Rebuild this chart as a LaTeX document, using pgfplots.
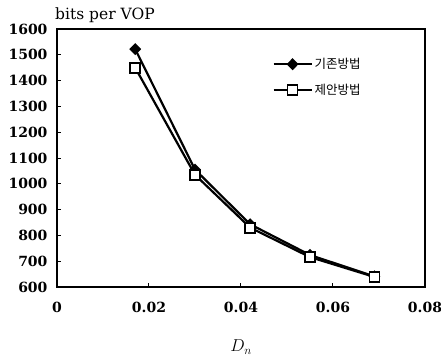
\documentclass[border=0pt]{standalone}
\usepackage{fontspec}
\setmainfont{DejaVu Serif}
\newfontfamily\kr{Noto Sans CJK KR}
\usepackage{pgfplots}
\pgfplotsset{compat=1.18}
\begin{document}
\begin{tikzpicture}
\path[use as bounding box] (-57bp,-72bp) rectangle (384bp,287bp);
\begin{axis}[
  at={(0,0)}, anchor=south west,
  scale only axis, width=368bp, height=258bp,
  xmin=0, xmax=0.08, ymin=600, ymax=1600,
  scaled x ticks=false,
  xtick={0,0.02,0.04,0.06,0.08},
  xticklabels={0,0.02,0.04,0.06,0.08},
  ytick={600,700,...,1600},
  /pgf/number format/assume math mode=true,
  /pgf/number format/1000 sep={},
  tick align=inside, major tick length=4bp,
  xtick pos=bottom, ytick pos=left,
  axis line style={line width=1.6bp},
  tick style={line width=1bp, black},
  tick label style={font=\bfseries\fontsize{14bp}{16bp}\selectfont},
  yticklabel style={xshift=-6bp},
  xticklabel style={yshift=-12bp},
  xlabel={$D_n$},
  xlabel style={font=\fontsize{18bp}{20bp}\selectfont, yshift=-20bp},
  legend style={draw=none, fill=none, at={(0.585,0.895)}, anchor=north west,
    font=\kr\fontsize{12.5bp}{15bp}\selectfont, row sep=10bp, inner sep=0pt},
  legend cell align=left,
  legend image code/.code={\draw[mark repeat=2,mark phase=2,#1] plot coordinates {(0bp,0bp) (19bp,0bp) (38bp,0bp)};},
]
\addplot[black, line width=2.2bp, mark=diamond*, mark size=4.5bp, mark options={solid, fill=black, xscale=1.3}]
 coordinates {(0.017,1522) (0.030,1055) (0.042,843) (0.055,724) (0.069,641)};
\addlegendentry{기존방법}
\addplot[black, line width=2.2bp, mark=square*, mark size=5bp, mark options={solid, fill=white, line width=1.7bp}]
 coordinates {(0.017,1450) (0.030,1035) (0.042,830) (0.055,716) (0.069,639)};
\addlegendentry{제안방법}
\end{axis}
\node[anchor=base west, inner sep=0pt, font=\fontsize{15.5bp}{18bp}\selectfont] at (-2bp,267bp) {bits per VOP};
\end{tikzpicture}
\end{document}
